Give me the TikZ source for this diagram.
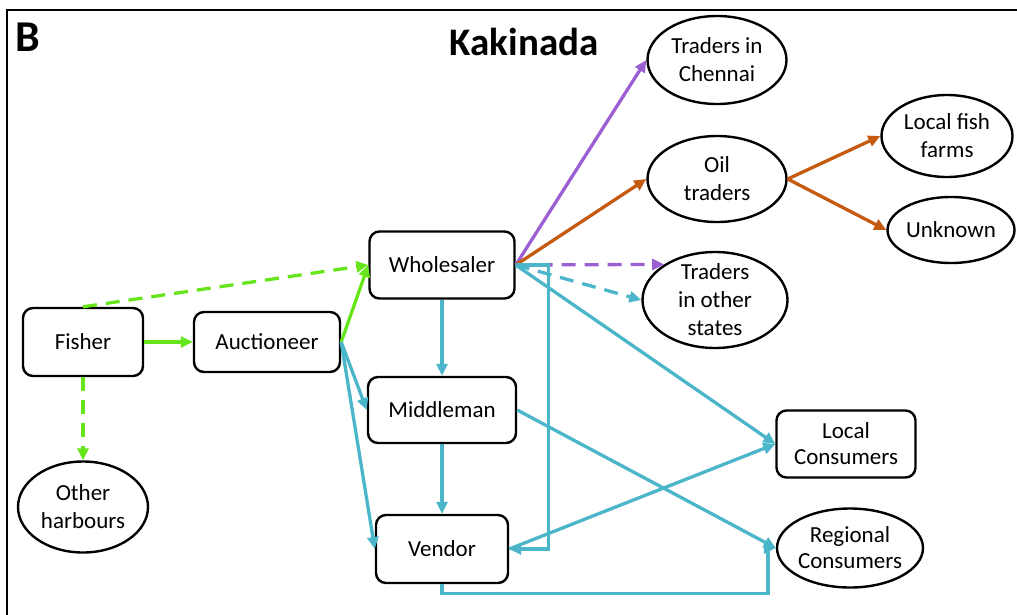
\documentclass[tikz,border=0pt]{standalone}
\usepackage{fontspec}
\setmainfont{Carlito}
\usetikzlibrary{arrows.meta,shapes.geometric}

\definecolor{flowgreen}{RGB}{102,230,26}
\definecolor{flowteal}{RGB}{75,182,201}
\definecolor{flowpurple}{RGB}{155,95,211}
\definecolor{floworange}{RGB}{197,90,17}

\tikzset{
  rbox/.style={draw, line width=2.4pt, rounded corners=10pt, align=center,
    inner sep=0pt, font=\fontsize{23}{26}\selectfont},
  oval/.style={draw, ellipse, line width=2.4pt, inner sep=0pt},
  ovaltext/.style={align=center, inner sep=0pt, font=\fontsize{23}{28}\selectfont},
  flow/.style={line width=3.3pt, -{Triangle[length=12pt,width=11pt]}},
  dashflow/.style={flow, dash pattern=on 14pt off 9pt},
}

\begin{document}
\begin{tikzpicture}[x=1pt,y=-1pt]
  \useasboundingbox (0,0) rectangle (1017,614);
  \clip (0,0) rectangle (1017,614);
  % outer frame of the panel
  \draw[line width=2.4pt] (7,10) rectangle (1030,630);
  \node[font=\fontsize{44}{44}\selectfont\bfseries, inner sep=0pt] (panel) at (28,37) {B};
  \node[font=\fontsize{39}{39}\selectfont\bfseries, inner sep=0pt] (title) at (524,42) {Kakinada};

  % boxes
  \node[rbox, minimum width=120, minimum height=68] (fisher) at (83,342) {Fisher};
  \node[rbox, minimum width=146, minimum height=60] (auct) at (267,342) {Auctioneer};
  \node[rbox, minimum width=145, minimum height=67] (whole) at (442,265) {Wholesaler};
  \node[rbox, minimum width=148, minimum height=66] (middle) at (442,410) {Middleman};
  \node[rbox, minimum width=132, minimum height=68] (vendor) at (442,549) {Vendor};
  \node[rbox, minimum width=139, minimum height=67] (local) at (846,444) {Local\\Consumers};

  % ellipses
  \node[oval, minimum width=130, minimum height=91] (harb) at (83,507) {};
  \node[ovaltext] at (harb) {Other\\harbours};
  \node[oval, minimum width=146, minimum height=79] (regional) at (850,548) {};
  \node[ovaltext, font=\fontsize{23}{26}\selectfont] at (regional) {Regional\\Consumers};
  \node[oval, minimum width=139, minimum height=88] (chennai) at (717,60) {};
  \node[ovaltext] at (chennai) {Traders in\\Chennai};
  \node[oval, minimum width=139, minimum height=86] (oil) at (717,179) {};
  \node[ovaltext] at (oil) {Oil\\traders};
  \node[oval, minimum width=145, minimum height=96] (others) at (715,300) {};
  \node[ovaltext] at (others) {Traders\\in other\\states};
  \node[oval, minimum width=131, minimum height=82] (farms) at (947,136) {};
  \node[ovaltext] at (farms) {Local fish\\farms};
  \node[oval, minimum width=127, minimum height=66] (unknown) at (951,230) {};
  \node[ovaltext] at (unknown) {Unknown};

  % fisher and auctioneer flows
  \draw[flow, flowgreen] (fisher.east) -- (auct.west);
  \draw[dashflow, flowgreen] (fisher.south) -- (harb.north);
  \draw[dashflow, flowgreen] (fisher.north) -- (whole.west);
  \draw[flow, flowgreen] (auct.east) -- (whole.west);
  \draw[flow, flowteal] (auct.east) -- (middle.west);
  \draw[flow, flowteal] (auct.east) -- (vendor.west);

  % wholesaler flows
  \draw[flow, flowteal] (whole.south) -- (middle.north);
  \draw[flow, flowteal] (middle.south) -- (vendor.north);
  \draw[flow, flowpurple] (whole.east) -- (chennai.west);
  \draw[flow, floworange] (whole.east) -- (oil.west);
  \draw[dashflow, flowpurple] (whole.east) -- (others.145);
  \draw[dashflow, flowteal] (whole.east) -- (others.west);
  \draw[flow, flowteal] (whole.east) -- (local.west);
  \draw[flow, flowteal] (whole.east) -- ++(33,0) |- (vendor.east);

  % oil traders
  \draw[flow, floworange] (oil.east) -- (farms.west);
  \draw[flow, floworange] (oil.east) -- (unknown.west);

  % consumers
  \draw[flow, flowteal] (middle.east) -- (regional.west);
  \draw[flow, flowteal] (vendor.east) -- (local.west);
  \coordinate (vturn) at (768,548);
  \draw[flow, flowteal] (vendor.south) -- ++(0,9) -| (vturn) -- (regional.west);
\end{tikzpicture}
\end{document}
